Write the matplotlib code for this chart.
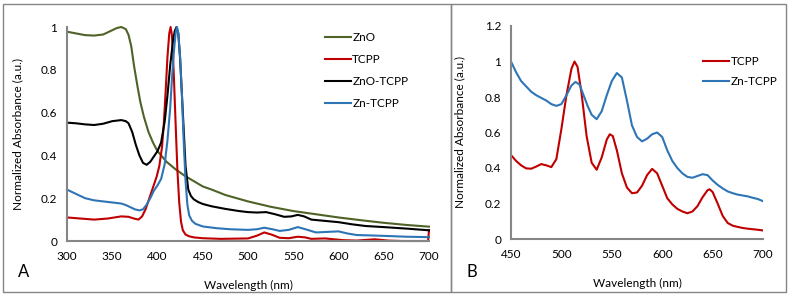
"""UV-vis absorption spectra: (A) ZnO / TCPP / ZnO-TCPP / Zn-TCPP, (B) Q-band region TCPP vs Zn-TCPP."""
import matplotlib
matplotlib.use("Agg")
import matplotlib.pyplot as plt
from matplotlib.patches import Rectangle

plt.rcParams["font.family"] = ["Lato", "DejaVu Sans"]

# ---- panel A data ----
zno_wl = [300, 310, 320, 330, 340, 350, 355, 360, 365, 368, 371, 374, 378, 381, 385, 390, 395,
          400, 405, 410, 420, 430, 440, 450, 460, 475, 500, 525, 550, 575, 600, 625, 650, 675, 700]
zno_ab = [0.978, 0.97, 0.962, 0.96, 0.965, 0.985, 0.995, 1.0, 0.99, 0.963, 0.91, 0.82, 0.72, 0.65,
          0.58, 0.51, 0.46, 0.42, 0.395, 0.37, 0.335, 0.305, 0.28, 0.255, 0.24, 0.215, 0.185,
          0.16, 0.14, 0.125, 0.11, 0.097, 0.085, 0.075, 0.067]

tcpp_wl = [300, 315, 330, 345, 360, 368, 374, 379, 383, 387, 391, 395, 399, 402, 405, 407, 409,
           411, 413, 414.5, 416, 418, 420, 422, 424, 426, 428, 431, 435, 440, 450, 470, 500, 510,
           518, 526, 535, 545, 555, 563, 570, 585, 595, 605, 620, 640, 655, 670, 690, 699, 700]
tcpp_ab = [0.11, 0.105, 0.10, 0.105, 0.115, 0.113, 0.105, 0.10, 0.115, 0.15, 0.2, 0.25, 0.3,
           0.35, 0.44, 0.55, 0.7, 0.86, 0.97, 1.0, 0.96, 0.78, 0.55, 0.33, 0.18, 0.09, 0.05,
           0.03, 0.022, 0.017, 0.013, 0.01, 0.012, 0.025, 0.04, 0.03, 0.015, 0.013, 0.02, 0.017,
           0.01, 0.012, 0.008, 0.004, 0.002, 0.008, 0.002, 0.0, 0.0, 0.0, 0.05]

znotcpp_wl = [300, 310, 320, 330, 340, 350, 360, 365, 368, 372, 376, 380, 384, 388, 392, 396,
              400, 404, 408, 411, 414, 417, 419, 421, 423, 425, 428, 431, 434, 437, 440, 445,
              450, 460, 475, 490, 500, 510, 520, 530, 540, 548, 555, 562, 570, 580, 590, 600,
              615, 630, 650, 675, 700]
znotcpp_ab = [0.553, 0.55, 0.545, 0.542, 0.548, 0.56, 0.565, 0.56, 0.55, 0.51, 0.45, 0.40,
              0.365, 0.356, 0.37, 0.395, 0.42, 0.46, 0.56, 0.68, 0.82, 0.93, 0.98, 1.0, 0.97,
              0.85, 0.6, 0.35, 0.24, 0.21, 0.195, 0.182, 0.173, 0.162, 0.15, 0.14, 0.135, 0.133,
              0.135, 0.125, 0.113, 0.115, 0.122, 0.115, 0.1, 0.096, 0.092, 0.088, 0.078, 0.07,
              0.065, 0.058, 0.05]

zntcpp_wl = [300, 310, 320, 330, 340, 350, 360, 365, 370, 375, 380, 384, 388, 392, 396, 400,
             404, 408, 411, 414, 416, 418, 420, 421.5, 423, 425, 427, 429, 431, 433, 435, 438,
             442, 450, 465, 480, 500, 510, 518, 527, 535, 545, 555, 565, 575, 585, 600, 610,
             620, 635, 650, 675, 700]
zntcpp_ab = [0.24, 0.22, 0.20, 0.19, 0.185, 0.18, 0.175, 0.168, 0.158, 0.148, 0.143, 0.148,
             0.17, 0.2, 0.235, 0.26, 0.29, 0.36, 0.47, 0.62, 0.76, 0.88, 0.97, 1.0, 0.97, 0.86,
             0.68, 0.46, 0.28, 0.17, 0.12, 0.095, 0.08, 0.068, 0.06, 0.055, 0.052, 0.055, 0.062,
             0.055, 0.047, 0.052, 0.065, 0.053, 0.04, 0.042, 0.045, 0.035, 0.028, 0.026, 0.024,
             0.02, 0.018]

# ---- panel B data (Q bands) ----
b_zn_wl = [450, 455, 460, 465, 470, 475, 480, 485, 490, 495, 500, 505, 510, 514, 518, 522, 526,
           530, 535, 540, 545, 550, 555, 560, 565, 570, 575, 580, 585, 590, 595, 600, 605, 610,
           615, 620, 625, 630, 635, 640, 645, 650, 655, 660, 665, 670, 675, 680, 685, 690, 695, 700]
b_zn_ab = [1.0, 0.94, 0.89, 0.86, 0.83, 0.81, 0.795, 0.78, 0.76, 0.75, 0.76, 0.81, 0.865, 0.885,
           0.87, 0.81, 0.75, 0.7, 0.675, 0.72, 0.81, 0.89, 0.935, 0.91, 0.78, 0.64, 0.575, 0.55,
           0.565, 0.59, 0.6, 0.575, 0.5, 0.44, 0.4, 0.37, 0.35, 0.345, 0.355, 0.365, 0.36, 0.33,
           0.305, 0.285, 0.268, 0.258, 0.25, 0.245, 0.24, 0.232, 0.225, 0.213]

b_tcpp_wl = [450, 455, 460, 465, 470, 475, 480, 485, 490, 495, 500, 505, 510, 513, 516, 520, 525,
             530, 535, 540, 545, 548, 551, 555, 560, 565, 570, 575, 580, 585, 590, 595, 600, 605,
             610, 615, 620, 625, 630, 635, 640, 645, 647, 650, 655, 660, 665, 670, 675, 680, 685,
             690, 695, 700]
b_tcpp_ab = [0.473, 0.44, 0.415, 0.398, 0.396, 0.408, 0.422, 0.415, 0.405, 0.45, 0.62, 0.81, 0.96,
             1.0, 0.97, 0.82, 0.58, 0.43, 0.39, 0.46, 0.56, 0.59, 0.58, 0.5, 0.37, 0.29, 0.258,
             0.262, 0.3, 0.36, 0.395, 0.37, 0.3, 0.23, 0.195, 0.17, 0.155, 0.145, 0.155, 0.185,
             0.235, 0.275, 0.28, 0.265, 0.2, 0.13, 0.09, 0.075, 0.068, 0.062, 0.058, 0.055, 0.052,
             0.048]

GREEN, RED, BLUE, BLACK = "#4f6228", "#c00000", "#2e75b6", "#000000"
AXC = "#868686"
FS = 8.5
W, H = 793, 298

fig = plt.figure(figsize=(W / 100, H / 100), dpi=100)

# panel frames (grey boxes)
for x0, x1 in [(3, 451), (451, 786)]:
    fig.add_artist(Rectangle((x0 / W, 1 - 292 / H), (x1 - x0) / W, (292 - 4) / H,
                             transform=fig.transFigure, fill=False, ec=AXC, lw=1.0))


def style(ax, ylpad):
    for s in ["top", "right"]:
        ax.spines[s].set_visible(False)
    for s in ["left", "bottom"]:
        ax.spines[s].set_color(AXC)
        ax.spines[s].set_linewidth(1.5)
    ax.tick_params(length=0, labelsize=FS, pad=7)
    ax.set_xlabel("Wavelength (nm)", fontsize=FS, labelpad=13)
    ax.set_ylabel("Normalized Absorbance (a.u.)", fontsize=FS, labelpad=ylpad)


def fmt(v):
    return "0" if v == 0 else f"{v:g}"


# ---- panel A ----
axA = fig.add_axes([67 / W, 1 - 241 / H, (429 - 67) / W, (241 - 27) / H])
axA.plot(zno_wl, zno_ab, color=GREEN, lw=1.5, label="ZnO", clip_on=False)
axA.plot(tcpp_wl, tcpp_ab, color=RED, lw=1.5, label="TCPP", clip_on=False)
axA.plot(znotcpp_wl, znotcpp_ab, color=BLACK, lw=1.5, label="ZnO-TCPP", clip_on=False)
axA.plot(zntcpp_wl, zntcpp_ab, color=BLUE, lw=1.5, label="Zn-TCPP", clip_on=False)
axA.set_xlim(300, 700)
axA.set_ylim(0, 1)
axA.set_xticks(range(300, 701, 50))
yt = [0, 0.2, 0.4, 0.6, 0.8, 1]
axA.set_yticks(yt)
axA.set_yticklabels([fmt(v) for v in yt])
style(axA, 12.5)
axA.legend(loc="upper left", bbox_to_anchor=(0.70, 1.0), frameon=False, fontsize=FS,
           handlelength=2.2, handletextpad=0.1, labelspacing=0.95, borderaxespad=0)
fig.text(18 / W, 1 - 272 / H, "A", fontsize=12, va="center", ha="left")

# ---- panel B ----
axB = fig.add_axes([511 / W, 1 - 239 / H, (763 - 511) / W, (239 - 26) / H])
axB.plot(b_tcpp_wl, b_tcpp_ab, color=RED, lw=1.5, label="TCPP")
axB.plot(b_zn_wl, b_zn_ab, color=BLUE, lw=1.5, label="Zn-TCPP")
axB.set_xlim(450, 700)
axB.set_ylim(0, 1.2)
axB.set_xticks(range(450, 701, 50))
ytb = [0, 0.2, 0.4, 0.6, 0.8, 1, 1.2]
axB.set_yticks(ytb)
axB.set_yticklabels([fmt(v) for v in ytb])
style(axB, 14)
axB.legend(loc="upper left", bbox_to_anchor=(0.745, 0.88), frameon=False, fontsize=FS,
           handlelength=2.2, handletextpad=0.1, labelspacing=0.75, borderaxespad=0)
fig.text(466 / W, 1 - 272 / H, "B", fontsize=12, va="center", ha="left")

fig.savefig("out.png", dpi=100)
